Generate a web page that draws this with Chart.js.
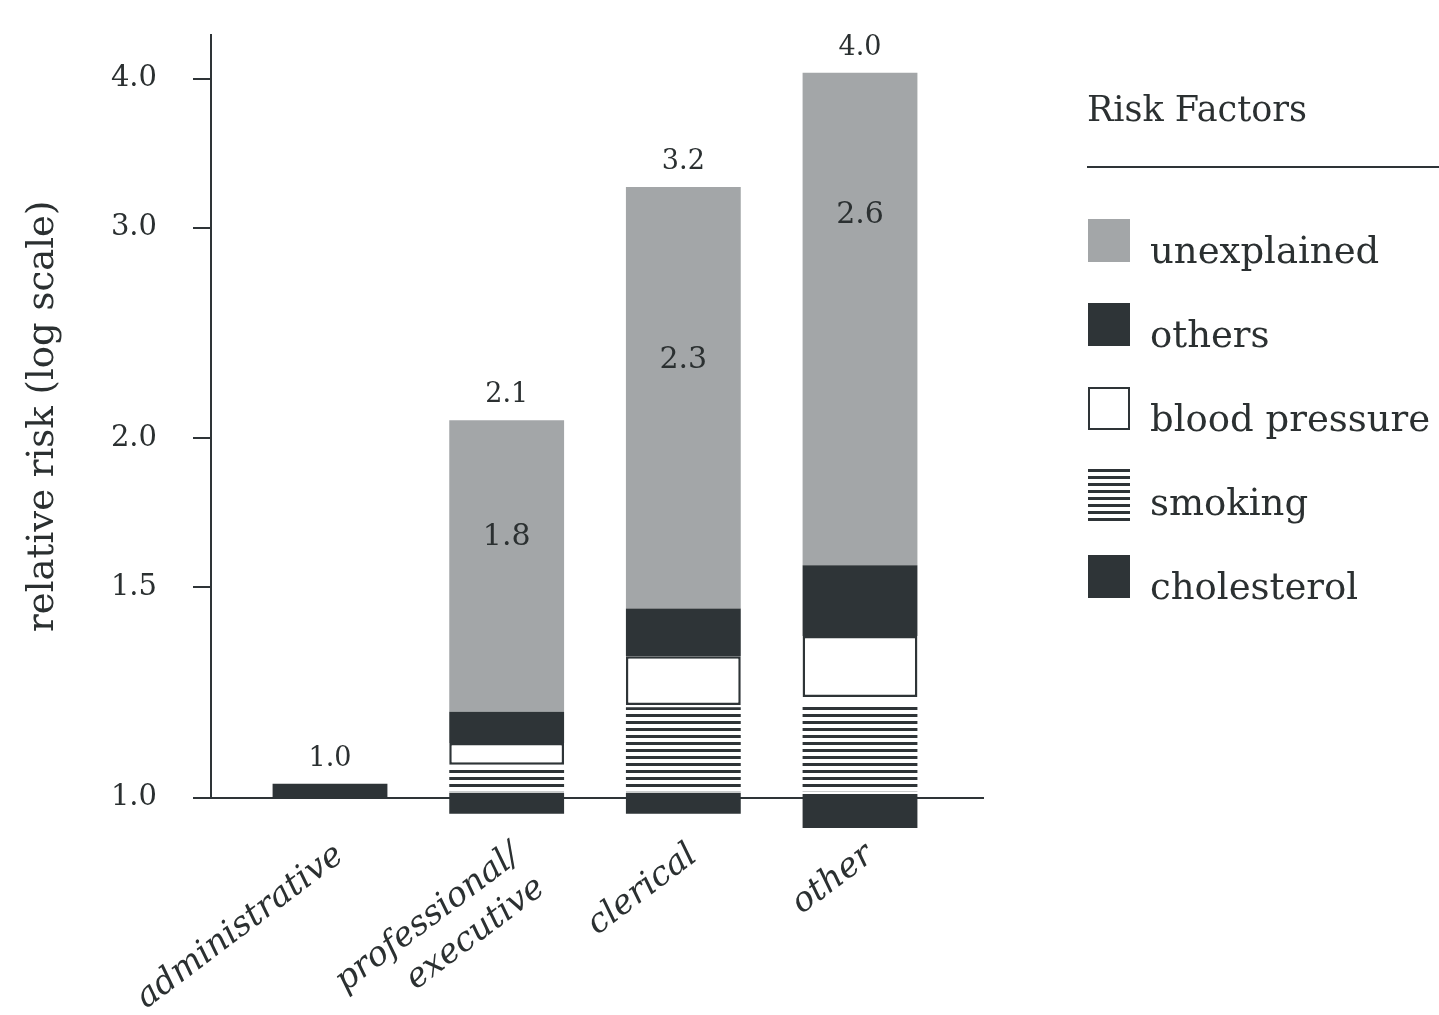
<!DOCTYPE html>
<html>
<head>
<meta charset="utf-8">
<title>Relative risk by grade</title>
<script src="https://cdn.jsdelivr.net/npm/chart.js@4.4.1/dist/chart.umd.min.js"></script>
<style>
  body { margin: 0; background: #fff; }
  #wrap { width: 1439px; height: 1015px; }
</style>
</head>
<body>
<div id="wrap"><canvas id="riskChart"></canvas></div>
<script>
// --- dados: faixas [de, até] do risco relativo em cada grau ---
const categories = ['administrative', ['professional/', 'executive'], 'clerical', 'other'];
const yTicks = [1.0, 1.5, 2.0, 3.0, 4.0];

const cholesterol   = [[1.0, 1.027], [0.969, 1.009], [0.969, 1.009], [0.943, 1.007]];
const smoking       = [null, [1.012, 1.061], [1.012, 1.19], [1.012, 1.2]];
const bloodPressure = [null, [1.065, 1.111], [1.195, 1.313], [1.214, 1.365]];
const others        = [null, [1.111, 1.18], [1.313, 1.44], [1.365, 1.565]];
const unexplained   = [null, [1.18, 2.07], [1.44, 3.245], [1.565, 4.045]];

const DARK = '#2e3437';
const GRAY = '#a3a6a8';
const TEXT = '#2b3031';
const FONT = '"DejaVu Serif", "Liberation Serif", serif';

// listras horizontais do fumo
function listras(cor) {
    const c = document.createElement('canvas');
    c.width = 8; c.height = 7;
    const g = c.getContext('2d');
    g.fillStyle = '#fff';
    g.fillRect(0, 0, 8, 7);
    g.fillStyle = cor;
    g.fillRect(0, 0, 8, 3);
    return g.createPattern(c, 'repeat');
}

function pontos(faixas) {
    return faixas.map((r, i) => r && { x: i + 1, y: r }).filter(Boolean);
}

function serie(nome, faixas, fundo, borda) {
    return {
        label: nome,
        data: pontos(faixas),
        backgroundColor: fundo,
        borderColor: DARK,
        borderWidth: borda || 0,
        borderSkipped: false,
        grouped: false,
        clip: false,
        barPercentage: 0.65,
        categoryPercentage: 1
    };
}

// rótulos dos totais em cima e do "não explicado" dentro da barra
const rotulosBarras = {
    id: 'rotulosBarras',
    afterDatasetsDraw(chart, args, opts) {
        const { ctx, scales: { x, y } } = chart;
        const todas = [cholesterol, smoking, bloodPressure, others, unexplained];
        ctx.save();
        ctx.fillStyle = TEXT;
        ctx.textAlign = 'center';
        categories.forEach((c, i) => {
            const cx = x.getPixelForValue(i + 1);
            const total = Math.max(...todas.map(s => s[i] ? s[i][1] : 0));
            ctx.font = '27px ' + FONT;
            ctx.textBaseline = 'alphabetic';
            ctx.fillText(total.toFixed(1), cx, y.getPixelForValue(total) - 18);

            const u = unexplained[i];
            if (u) {
                const topo = y.getPixelForValue(u[1]);
                const base = y.getPixelForValue(u[0]);
                ctx.font = '30px ' + FONT;
                ctx.textBaseline = 'middle';
                ctx.fillText((u[1] / u[0]).toFixed(1), cx, topo + (base - topo) * opts.posicao[i]);
            }
        });
        ctx.restore();
    }
};

// legenda "Risk Factors" à direita
const legendaRisco = {
    id: 'legendaRisco',
    afterDraw(chart) {
        const ctx = chart.ctx;
        const left = 1087;
        ctx.save();
        ctx.fillStyle = TEXT;
        ctx.textAlign = 'left';
        ctx.textBaseline = 'alphabetic';
        ctx.font = '35px ' + FONT;
        ctx.fillText('Risk Factors', left, 121);

        ctx.strokeStyle = DARK;
        ctx.lineWidth = 2;
        ctx.beginPath();
        ctx.moveTo(left, 167);
        ctx.lineTo(1439, 167);
        ctx.stroke();

        ctx.font = '37px ' + FONT;
        const itens = chart.data.datasets.slice().reverse();
        itens.forEach((ds, k) => {
            const topo = 219 + k * 84;
            const listrado = ds.backgroundColor instanceof CanvasPattern;
            const bx = left + 1, by = listrado ? topo - 5 : topo;
            const bh = listrado ? 57 : 43;
            ctx.fillStyle = ds.backgroundColor;
            ctx.fillRect(bx, by, 42, bh);
            if (ds.borderWidth) {
                ctx.lineWidth = 2;
                ctx.strokeRect(bx + 1, by + 1, 40, bh - 2);
            }
            ctx.fillStyle = TEXT;
            ctx.fillText(ds.label, 1150, topo + 44);
        });
        ctx.restore();
    }
};

const ctx = document.getElementById('riskChart').getContext('2d');

new Chart(ctx, {
    type: 'bar',
    data: {
        datasets: [
            serie('cholesterol', cholesterol, DARK),
            serie('smoking', smoking, listras(DARK)),
            serie('blood pressure', bloodPressure, '#ffffff', 2.5),
            serie('others', others, DARK),
            serie('unexplained', unexplained, GRAY)
        ]
    },
    options: {
        responsive: true,
        maintainAspectRatio: false,
        animation: false,
        events: [],
        devicePixelRatio: 1,
        layout: { padding: { top: 35, right: 456, left: 0, bottom: 0 } },
        scales: {
            x: {
                type: 'linear',
                offset: false,
                min: 0.3264,
                max: 4.6962,
                afterBuildTicks: s => { s.ticks = categories.map((c, i) => ({ value: i + 1 })); },
                afterFit: s => { s.height = 217.5; s.paddingLeft = 0; s.paddingRight = 0; },
                grid: { display: false },
                border: { display: true, color: DARK, width: 2 },
                ticks: {
                    autoSkip: false,
                    minRotation: 37,
                    maxRotation: 37,
                    padding: 30,
                    labelOffset: 10,
                    color: TEXT,
                    font: { family: FONT, size: 34, style: 'italic' },
                    callback: (v, i) => categories[i]
                }
            },
            y: {
                type: 'logarithmic',
                min: 1,
                max: 4.35,
                afterBuildTicks: s => { s.ticks = yTicks.map(v => ({ value: v })); },
                afterFit: s => { s.width = 211; s.paddingTop = 0; s.paddingBottom = 0; },
                grid: { drawOnChartArea: false, drawTicks: true, tickLength: 18, color: DARK, lineWidth: 2 },
                border: { display: true, color: DARK, width: 2 },
                ticks: {
                    padding: 36,
                    color: TEXT,
                    font: { family: FONT, size: 29 },
                    callback: v => Number(v).toFixed(1)
                },
                title: {
                    display: true,
                    text: 'relative risk (log scale)',
                    color: TEXT,
                    font: { family: FONT, size: 37 },
                    padding: { top: 21, bottom: 0 }
                }
            }
        },
        plugins: {
            legend: { display: false },
            tooltip: { enabled: false },
            rotulosBarras: { posicao: [null, 0.40, 0.41, 0.29] }
        }
    },
    plugins: [rotulosBarras, legendaRisco]
});
</script>
</body>
</html>
